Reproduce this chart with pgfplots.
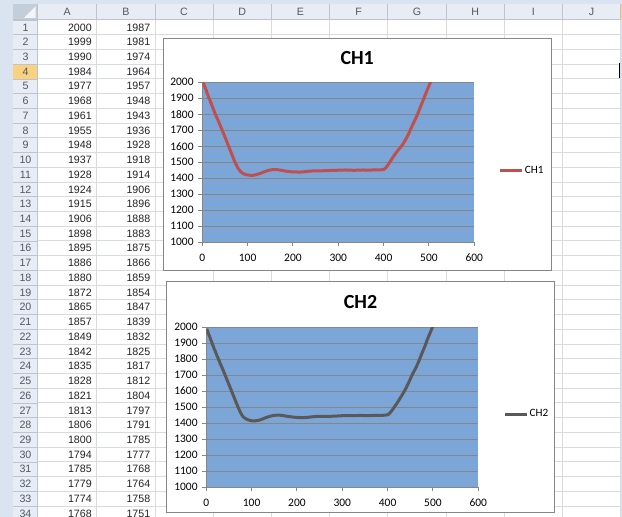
\documentclass[border=0pt]{standalone}
\usepackage{pgfplots}
\pgfplotsset{compat=1.18}
\usepackage{fontspec}
\setmainfont{Carlito}
\newfontfamily\cellfont{Liberation Sans}
\definecolor{sheetbg}{RGB}{218,227,240}
\definecolor{hdrfill}{RGB}{232,237,245}
\definecolor{cornerfill}{RGB}{196,205,218}
\definecolor{selfill}{RGB}{248,210,128}
\definecolor{gridc}{RGB}{216,219,224}
\definecolor{hdrline}{RGB}{188,196,208}
\definecolor{hdrtext}{RGB}{80,88,100}
\definecolor{celltext}{RGB}{35,35,35}
\definecolor{framec}{RGB}{134,134,134}
\definecolor{plotblue}{RGB}{124,166,215}
\definecolor{gridline}{RGB}{134,134,134}
\definecolor{axisc}{RGB}{134,134,134}
\definecolor{chone}{RGB}{192,80,77}
\definecolor{chtwo}{RGB}{89,89,89}
\pgfplotsset{
  xlchart/.style={
    scale only axis, width=204pt, height=120pt,
    xmin=0, xmax=600, ymin=1000, ymax=2000,
    xtick={0,100,...,600}, ytick={1000,1100,...,2000},
    axis background/.style={fill=plotblue},
    ymajorgrids, grid style={gridline, line width=0.75pt},
    axis x line*=bottom, axis y line*=left,
    axis line style={axisc, line width=0.75pt},
    tick style={axisc, line width=0.75pt},
    tick align=outside, major tick length=3pt,
    ticklabel style={font=\fontsize{8.6}{10}\selectfont, text=black},
    xticklabel style={yshift=-2.2pt},
    /pgf/number format/assume math mode=true,
    /pgf/number format/1000 sep={},
    legend style={draw=none, fill=none, anchor=west, inner sep=0pt,
      font=\fontsize{8.4}{10}\selectfont, nodes={inner sep=1pt}},
    legend image code/.code={\draw[##1] (0pt,0pt) -- (16.5pt,0pt);},
  }
}
\begin{document}
\begin{tikzpicture}
\begin{scope}[x=0.75pt,y=0.75pt]
\useasboundingbox (0,0) rectangle (622,-517);
\clip (0,0) rectangle (622,-517);
\fill[sheetbg] (0,0) rectangle (622,-517);
\fill[white] (37.7,-20) rectangle (620.3,-517);
\fill[hdrfill] (13.3,-4.5) rectangle (620.3,-20);
\fill[hdrfill] (13.3,-20) rectangle (37.7,-517);
\fill[cornerfill] (13.3,-4.5) rectangle (37.7,-20);
\fill[white!80!cornerfill] (35.5,-6.5) -- (35.5,-18) -- (24,-18) -- cycle;
\fill[selfill] (13.3,-64.2) rectangle (37.7,-78.9);
\fill[selfill] (620.3,-4.5) rectangle (622,-20);
% grid
\foreach \k in {0,...,34} {
  \draw[gridc, line width=0.75pt] (37.7,{-20-\k*14.73}) -- (620.3,{-20-\k*14.73});
  \draw[hdrline, line width=0.6pt] (13.3,{-20-\k*14.73}) -- (37.7,{-20-\k*14.73});
}
\foreach \xx in {96.7,155,213.2,271.4,329.6,387.8,446.0,504.2,562.4,620.3} {
  \draw[gridc, line width=0.75pt] (\xx,-20) -- (\xx,-517);
  \draw[hdrline, line width=0.6pt] (\xx,-4.5) -- (\xx,-20);
}
\draw[hdrline, line width=0.75pt] (37.7,-4.5) -- (37.7,-517);
\draw[hdrline, line width=0.75pt] (13.3,-20) -- (620.3,-20);
\fill[black] (618.8,-63.5) rectangle (620.3,-78);
% column letters
\foreach \L/\c in {A/67.2,B/125.9,C/184.1,D/242.3,E/300.5,F/358.7,G/416.9,H/475.1,I/533.3,J/591.5}
  \node[text=hdrtext, font=\cellfont\fontsize{8}{9}\selectfont, inner sep=0pt] at (\c,-12.3) {\L};
% row numbers
\foreach \k in {1,...,34}
  \node[text=hdrtext, font=\cellfont\fontsize{8}{9}\selectfont, inner sep=0pt] at (25.5,{-20-(\k-0.5)*14.73}) {\k};
% cell values
\foreach \a/\b [count=\k] in {2000/1987,1999/1981,1990/1974,1984/1964,1977/1957,1968/1948,1961/1943,1955/1936,1948/1928,1937/1918,1928/1914,1924/1906,1915/1896,1906/1888,1898/1883,1895/1875,1886/1866,1880/1859,1872/1854,1865/1847,1857/1839,1849/1832,1842/1825,1835/1817,1828/1812,1821/1804,1813/1797,1806/1791,1800/1785,1794/1777,1785/1768,1779/1764,1774/1758,1768/1751} {
  \node[anchor=east, text=celltext, font=\cellfont\fontsize{8}{9}\selectfont, inner sep=0pt] at (92,{-20-(\k-0.5)*14.73}) {\a};
  \node[anchor=east, text=celltext, font=\cellfont\fontsize{8}{9}\selectfont, inner sep=0pt] at (150.5,{-20-(\k-0.5)*14.73}) {\b};
}
% chart frames
\draw[framec, fill=white, line width=0.75pt] (163.5,-38.5) rectangle (551,-270.7);
\draw[framec, fill=white, line width=0.75pt] (166.8,-281.7) rectangle (554.3,-512.5);
\node[font=\bfseries\fontsize{15}{18}\selectfont] at (357.2,-58.3) {CH1};
\node[font=\bfseries\fontsize{15}{18}\selectfont] at (360.5,-302.3) {CH2};
\end{scope}

\begin{axis}[xlchart, at={(151.725pt,-181.725pt)}, anchor=south west,
  legend style={at={(1.088,0.446)}}]
\addplot[chone, line width=2.25pt, line join=round, smooth, tension=0.4] coordinates {
(1,2000)(2,1999)(3,1990)(4,1984)(5,1977)(6,1968)(7,1961)(8,1955)(9,1948)(10,1937)(11,1928)(12,1924)(13,1915)(14,1906)(15,1898)(16,1895)(17,1886)(18,1880)(19,1872)(20,1865)(21,1857)(22,1849)(23,1842)(24,1835)(25,1828)(26,1821)(27,1813)(28,1806)(29,1800)(30,1794)(31,1785)(32,1779)(33,1774)(34,1768)
(40,1727)(46,1686)(52,1644)(58,1601)(64,1558)(70,1515)(75,1484)(80,1458)(85,1440)(90,1430)(95,1424)(100,1421)(106,1419)(112,1419)(118,1422)(124,1427)(130,1433)(136,1440)(142,1446)(148,1451)(155,1454)(162,1455)(170,1452)(178,1448)(186,1444)(195,1441)(205,1440)(215,1439)(225,1441)(235,1444)(245,1446)(255,1447)(265,1447)(275,1448)(285,1449)(295,1450)(305,1451)(315,1452)(325,1451)(335,1450)(345,1451)(355,1452)(365,1451)(375,1452)(385,1452)(395,1453)(401,1456)(406,1470)(411,1490)(416,1512)(422,1537)(428,1562)(434,1583)(440,1603)(446,1630)(452,1660)(458,1696)(464,1735)(470,1770)(476,1808)(482,1852)(488,1894)(494,1937)(500,1978)(505,2010)(510,2045)
};
\addlegendentry{CH1}
\end{axis}

\begin{axis}[xlchart, at={(154.725pt,-365.25pt)}, anchor=south west,
  legend style={at={(1.091,0.456)}}]
\addplot[chtwo, line width=2.25pt, line join=round, smooth, tension=0.4] coordinates {
(1,1987)(2,1981)(3,1974)(4,1964)(5,1957)(6,1948)(7,1943)(8,1936)(9,1928)(10,1918)(11,1914)(12,1906)(13,1896)(14,1888)(15,1883)(16,1875)(17,1866)(18,1859)(19,1854)(20,1847)(21,1839)(22,1832)(23,1825)(24,1817)(25,1812)(26,1804)(27,1797)(28,1791)(29,1785)(30,1777)(31,1768)(32,1764)(33,1758)(34,1751)
(40,1710)(46,1668)(52,1626)(58,1584)(64,1541)(70,1500)(75,1468)(80,1444)(85,1430)(90,1422)(95,1417)(100,1414)(106,1413)(112,1415)(118,1419)(124,1425)(130,1432)(136,1438)(142,1443)(148,1447)(155,1449)(162,1449)(170,1446)(178,1442)(186,1439)(195,1436)(205,1434)(215,1434)(225,1436)(235,1439)(245,1441)(255,1441)(265,1442)(275,1442)(285,1443)(295,1445)(305,1446)(315,1447)(325,1446)(335,1447)(345,1447)(355,1446)(365,1447)(375,1448)(385,1448)(395,1449)(401,1452)(406,1466)(411,1484)(416,1505)(422,1530)(428,1557)(434,1585)(440,1615)(446,1650)(452,1688)(458,1722)(464,1755)(470,1795)(476,1838)(482,1878)(488,1925)(494,1965)(499,2000)(505,2045)
};
\addlegendentry{CH2}
\end{axis}
\end{tikzpicture}
\end{document}
